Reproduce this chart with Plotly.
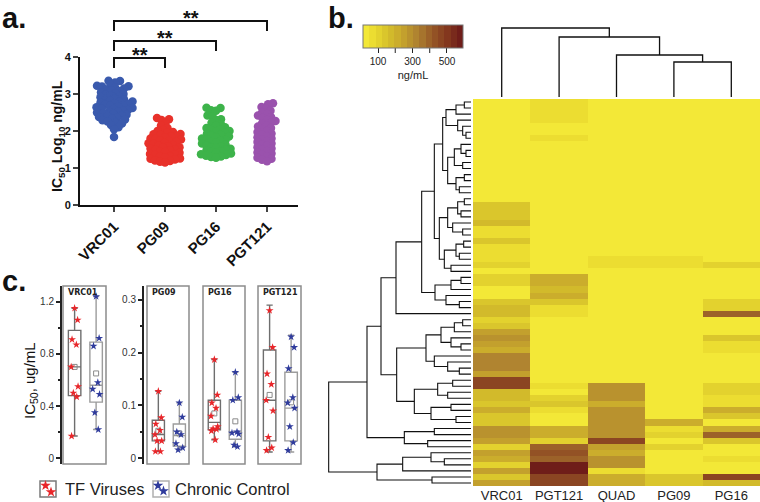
import numpy as np
import plotly.graph_objects as go

W, H = 760, 502
FONT = "Liberation Sans, Arial, sans-serif"

def fx(p):
    return p / W

def fy(p):
    return 1 - p / H

def dom_x(a, b):
    return [fx(a), fx(b)]

def dom_y(top, bottom):
    return [fy(bottom), fy(top)]

# ---------------- panel a data (IC50, log10 ng/mL) ----------------
a_groups = ["VRC01", "PG09", "PG16", "PGT121"]
a_colors = ["#3a5aad", "#e8312a", "#3db34a", "#9a52ad"]
a_vrc01 = [3.36, 3.35, 3.31, 3.24, 3.22, 3.21, 3.20, 3.18, 3.15, 3.12, 3.10, 3.08, 3.05, 3.02,
           3.00, 2.98, 2.96, 2.93, 2.91, 2.88, 2.86, 2.84, 2.82, 2.80, 2.79, 2.77, 2.75, 2.73,
           2.71, 2.70, 2.68, 2.66, 2.64, 2.62, 2.60, 2.59, 2.57, 2.55, 2.53, 2.52, 2.50, 2.48,
           2.46, 2.44, 2.42, 2.40, 2.38, 2.36, 2.33, 2.31, 2.29, 2.26, 2.23, 2.20, 2.16, 2.10,
           2.05, 1.84]
a_pg09 = [2.35, 2.32, 2.30, 2.22, 2.15, 2.08, 2.03, 2.00, 1.97, 1.95, 1.92, 1.91, 1.89, 1.86,
          1.85, 1.83, 1.80, 1.79, 1.77, 1.74, 1.73, 1.71, 1.68, 1.67, 1.65, 1.62, 1.61, 1.59,
          1.56, 1.55, 1.53, 1.50, 1.49, 1.47, 1.44, 1.43, 1.41, 1.38, 1.37, 1.35, 1.32, 1.31,
          1.29, 1.26, 1.25, 1.23, 1.20, 1.19, 1.17, 1.15]
a_pg16 = [2.63, 2.62, 2.56, 2.55, 2.42, 2.40, 2.32, 2.30, 2.22, 2.18, 2.15, 2.10, 2.08, 2.05,
          2.02, 2.00, 1.98, 1.95, 1.93, 1.90, 1.88, 1.85, 1.83, 1.80, 1.78, 1.76, 1.73, 1.70,
          1.68, 1.66, 1.63, 1.61, 1.58, 1.56, 1.54, 1.52, 1.50, 1.48, 1.45, 1.43, 1.41, 1.39,
          1.37, 1.35, 1.33, 1.31, 1.30, 1.28]
a_pgt121 = [2.75, 2.72, 2.65, 2.60, 2.55, 2.50, 2.46, 2.42, 2.38, 2.35, 2.30, 2.27, 2.22, 2.20,
            2.15, 2.12, 2.08, 2.05, 2.00, 1.97, 1.93, 1.90, 1.86, 1.83, 1.80, 1.77, 1.73, 1.70,
            1.66, 1.63, 1.60, 1.56, 1.53, 1.50, 1.46, 1.42, 1.39, 1.36, 1.32, 1.28, 1.25, 1.22,
            1.18]
a_values = [a_vrc01, a_pg09, a_pg16, a_pgt121]
a_sig_pairs = [(0, 1), (0, 2), (0, 3)]
a_sig_text = ["**", "**", "**"]

# ---------------- panel b data (heatmap, ng/mL) ----------------
hm_cols = ["VRC01", "PGT121", "QUAD", "PG09", "PG16"]
hm_vrc01 = [40, 40, 40, 15, 15, 15, 15, 15, 15, 15, 15, 15, 15, 15, 38, 38,
            38, 140, 150, 145, 190, 75, 75, 140, 80, 80, 55, 115, 40, 90, 90, 45,
            45, 145, 170, 170, 100, 150, 265, 270, 265, 200, 320, 330, 325, 240, 460, 460,
            165, 160, 155, 225, 150, 150, 280, 280, 240, 100, 250, 200, 120, 250, 140, 250]
hm_pgt121 = [80, 80, 80, 80, 35, 35, 80, 40, 15, 15, 15, 15, 15, 15, 15, 15,
             15, 15, 15, 15, 15, 15, 15, 15, 15, 15, 15, 15, 15, 220, 220, 160,
             200, 140, 50, 50, 15, 15, 15, 15, 15, 15, 15, 15, 15, 15, 15, 50,
             25, 90, 150, 60, 20, 20, 200, 200, 110, 400, 420, 380, 560, 590, 470, 470]
hm_quad = [20, 35, 15, 15, 15, 15, 40, 15, 15, 15, 15, 15, 15, 15, 40, 15,
           15, 40, 15, 15, 40, 15, 15, 15, 15, 15, 80, 80, 15, 15, 15, 15,
           15, 15, 15, 15, 15, 15, 40, 15, 15, 15, 35, 15, 15, 30, 15, 300,
           300, 300, 220, 290, 290, 300, 300, 300, 480, 250, 200, 300, 280, 50, 200, 200]
hm_pg09 = [15, 15, 40, 15, 15, 15, 40, 40, 15, 15, 15, 15, 15, 15, 15, 15,
           35, 15, 15, 15, 15, 15, 15, 15, 15, 15, 60, 60, 15, 15, 15, 15,
           15, 30, 15, 15, 15, 15, 15, 15, 15, 15, 35, 15, 15, 15, 15, 15,
           15, 15, 15, 15, 15, 210, 70, 120, 35, 90, 40, 25, 25, 25, 150, 150]
hm_pg16 = [15, 15, 15, 15, 15, 15, 15, 15, 45, 45, 45, 15, 15, 15, 15, 15,
           15, 15, 35, 15, 15, 15, 15, 45, 45, 30, 15, 110, 15, 15, 15, 40,
           15, 100, 100, 380, 15, 15, 15, 130, 60, 60, 15, 15, 15, 15, 15, 100,
           100, 60, 60, 220, 130, 20, 230, 400, 130, 15, 15, 70, 15, 15, 450, 180]
hm_zmin, hm_zmax = 13, 593
cb_tickvals = [100, 300, 500]
cb_minor_vals = [200, 400]

# column dendrogram: [height, left, right]; None = leaf (order VRC01, PGT121, QUAD, PG09, PG16)
L = None
col_tree = [69, L, [60, L, [42, L, [35, L, L]]]]

# row dendrogram (heights in 1/3 px units), leaves in heatmap row order
t1a_top = [75, [45, [20, L, L], L], [40, L, [25, L, [15, L, L]]]]
t1a_bot = [70, [50, [30, L, [15, L, L]], [25, L, L]], [45, [20, L, L], [35, L, L]]]
t1b = [95, [70, [40, [20, L, L], [30, L, L]], [55, L, [25, L, L]]],
       [80, [45, [22, L, L], [35, L, L]], [60, L, L]]]
t2 = [108, [60, [30, L, L], L], [75, L, [35, L, L]]]
c1 = [135, [90, [50, [25, L, L], L], [60, L, [30, L, L]]], [110, L, [70, L, [35, L, L]]]]
c2 = [170, [100, [55, L, L], [70, L, L]], [120, [60, L, L], [45, L, L]]]
a2 = [200, [110, L, L], [130, L, L]]
b1 = [205, [120, L, [80, L, L]], L]
b2 = [117, L, L]
row_tree = [427,
            [312, [270, [225, [148, [110, [85, t1a_top, t1a_bot], t1b], t2], L], [223, c1, c2]], a2],
            [282, b1, b2]]

# ---------------- panel c data (IC50 ug/mL) ----------------
c_names = ["VRC01", "PG09", "PG16", "PGT121"]
c_tf_lo = [0.17, 0.013, 0.035, 0.012]
c_tf_q1 = [0.48, 0.033, 0.054, 0.033]
c_tf_med = [0.70, 0.045, 0.068, 0.110]
c_tf_q3 = [0.98, 0.072, 0.110, 0.205]
c_tf_hi = [1.15, 0.127, 0.187, 0.290]
c_tf_mean = [0.70, 0.052, 0.085, 0.120]
c_ch_lo = [0.22, 0.016, 0.022, 0.012]
c_ch_q1 = [0.43, 0.023, 0.036, 0.033]
c_ch_med = [0.56, 0.043, 0.050, 0.095]
c_ch_q3 = [0.89, 0.065, 0.110, 0.163]
c_ch_hi = [1.24, 0.105, 0.163, 0.233]
c_ch_mean = [0.65, 0.047, 0.070, 0.106]
c_tf_pts = [[1.15, 1.06, 0.91, 0.87, 0.70, 0.55, 0.50, 0.47, 0.17],
            [0.127, 0.077, 0.065, 0.053, 0.045, 0.033, 0.033, 0.013, 0.013],
            [0.187, 0.120, 0.105, 0.095, 0.080, 0.060, 0.056, 0.055, 0.052, 0.035],
            [0.280, 0.210, 0.160, 0.140, 0.110, 0.090, 0.040, 0.020, 0.015]]
c_ch_pts = [[1.24, 0.92, 0.86, 0.58, 0.53, 0.49, 0.35, 0.22],
            [0.105, 0.078, 0.050, 0.045, 0.028, 0.020, 0.016],
            [0.163, 0.115, 0.110, 0.050, 0.048, 0.046, 0.025, 0.022],
            [0.230, 0.210, 0.170, 0.115, 0.105, 0.095, 0.060, 0.030, 0.015]]
legend_labels = ["TF Viruses", "Chronic Control"]

# ---------------- helpers ----------------
def swarm_offsets(vals, px_y, d):
    vals = np.asarray(vals, float)
    order = np.argsort(vals)
    px, py = [], []
    offs = np.zeros(len(vals))
    for n, idx in enumerate(order):
        y = vals[idx] * px_y
        sign = 1 if n % 2 == 0 else -1
        cands = [0.0]
        for k in range(1, 120):
            cands += [sign * k * 0.5, -sign * k * 0.5]
        chosen = 0.0
        for s in cands:
            if all((a - s) ** 2 + (b - y) ** 2 >= d * d for a, b in zip(px, py)):
                chosen = s
                break
        offs[idx] = chosen
        px.append(chosen)
        py.append(y)
    return offs


def dendro_segments(node, counter, xs, ys, horizontal):
    if node is None:
        i = counter[0]
        counter[0] += 1
        return float(i), 0.0
    h, left, right = node
    p1, h1 = dendro_segments(left, counter, xs, ys, horizontal)
    p2, h2 = dendro_segments(right, counter, xs, ys, horizontal)
    hs = [h1, h, h, h2]
    ps = [p1, p1, p2, p2]
    if horizontal:
        xs += hs + [None]
        ys += ps + [None]
    else:
        xs += ps + [None]
        ys += hs + [None]
    return (p1 + p2) / 2, h


fig = go.Figure()

# ---------------- panel a ----------------
PX_PER_Y = 37.0
PX_PER_X = 51.0
for gi, (vals, col) in enumerate(zip(a_values, a_colors)):
    offs = swarm_offsets(vals, PX_PER_Y, 4.8) / PX_PER_X
    fig.add_trace(go.Scatter(x=gi + offs, y=vals, mode="markers",
                             marker=dict(color=col, size=8.5, line=dict(width=0)),
                             xaxis="x", yaxis="y", hoverinfo="skip"))

shapes = []
annotations = []
brk_y = [58, 41, 21]
for (g0, g1), yb, txt in zip(a_sig_pairs, brk_y, a_sig_text):
    shapes.append(dict(type="path", xref="x", yref="paper",
                       path=f"M {g0},{fy(yb+10)} L {g0},{fy(yb)} L {g1},{fy(yb)} L {g1},{fy(yb+10)}",
                       line=dict(color="#111", width=2)))
    annotations.append(dict(x=(g0 + g1) / 2, y=fy(yb - 3), xref="x", yref="paper", text=f"<b>{txt}</b>",
                            showarrow=False, yanchor="middle", xanchor="center",
                            font=dict(size=20, color="#111", family=FONT)))

# ---------------- panel b ----------------
z = np.array([hm_vrc01, hm_pgt121, hm_quad, hm_pg09, hm_pg16], float).T
anchors = [(0.0, (247, 238, 58)), (0.1, (235, 220, 48)), (0.25, (214, 192, 43)),
           (0.4, (196, 161, 45)), (0.55, (173, 128, 48)), (0.7, (149, 86, 38)),
           (0.85, (130, 54, 30)), (1.0, (106, 22, 24))]
nsteps = 16
def interp_col(t):
    for (t0, c0), (t1, c1_) in zip(anchors[:-1], anchors[1:]):
        if t0 <= t <= t1:
            f = (t - t0) / (t1 - t0)
            return tuple(int(round(a + (b - a) * f)) for a, b in zip(c0, c1_))
    return anchors[-1][1]
cscale = []
for k in range(nsteps):
    c = interp_col((k + 0.5) / nsteps)
    cs = f"rgb({c[0]},{c[1]},{c[2]})"
    cscale.append([k / nsteps, cs])
    cscale.append([(k + 1) / nsteps, cs])

CB_X0, CB_LEN, CB_Y0, CB_TH = 363, 100, 25, 23
fig.add_trace(go.Heatmap(
    z=z, x=list(range(len(hm_cols))), y=list(range(z.shape[0])),
    colorscale=cscale, zmin=hm_zmin, zmax=hm_zmax, xaxis="x2", yaxis="y2", hoverinfo="skip",
    colorbar=dict(orientation="h", x=fx(CB_X0), xanchor="left", y=fy(CB_Y0), yanchor="top",
                  len=CB_LEN, lenmode="pixels", thickness=CB_TH, thicknessmode="pixels",
                  xpad=0, ypad=0, outlinewidth=1, outlinecolor="#777",
                  tickvals=cb_tickvals, ticks="outside", ticklen=5,
                  tickcolor="#222", tickfont=dict(size=10, color="#222", family=FONT),
                  title=dict(text="ng/mL", side="bottom", font=dict(size=11, color="#222", family=FONT)))))

xs, ys = [], []
dendro_segments(col_tree, [0], xs, ys, horizontal=False)
fig.add_trace(go.Scatter(x=xs, y=ys, mode="lines", line=dict(color="#111", width=1.3),
                         xaxis="x3", yaxis="y3", hoverinfo="skip"))
xs, ys = [], []
dendro_segments(row_tree, [0], xs, ys, horizontal=True)
xs = [None if v is None else v / 3.0 for v in xs]
fig.add_trace(go.Scatter(x=xs, y=ys, mode="lines", line=dict(color="#111", width=1.1),
                         xaxis="x4", yaxis="y4", hoverinfo="skip"))

# ---------------- panel c ----------------
frames_px = [(63, 106), (147, 189), (203, 245), (258, 301)]
TF_POS, CH_POS, BW = 0.27, 0.77, 0.29
jit = [0.0, 0.07, -0.06, 0.04, -0.08, 0.08, -0.03, 0.05, -0.07, 0.02]
tf_col, ch_col = "#e8262a", "#2f3b9c"
for i in range(4):
    xa = f"x{5+i}"
    ya_real = f"y{5+i}"
    for pos, lo, q1, med, q3, hi, mean, pts, pcol, bcol in [
        (TF_POS, c_tf_lo[i], c_tf_q1[i], c_tf_med[i], c_tf_q3[i], c_tf_hi[i], c_tf_mean[i], c_tf_pts[i], tf_col, "#6e6e6e"),
        (CH_POS, c_ch_lo[i], c_ch_q1[i], c_ch_med[i], c_ch_q3[i], c_ch_hi[i], c_ch_mean[i], c_ch_pts[i], ch_col, "#9c9c9c")]:
        fig.add_trace(go.Box(x=[pos], q1=[q1], median=[med], q3=[q3], lowerfence=[lo], upperfence=[hi],
                             width=BW, whiskerwidth=0.5, boxpoints=False,
                             line=dict(color=bcol, width=1.4), fillcolor="rgba(255,255,255,0)",
                             xaxis=xa, yaxis=ya_real, hoverinfo="skip"))
        fig.add_trace(go.Scatter(x=[pos], y=[mean], mode="markers",
                                 marker=dict(symbol="square-open", size=5, color="#8a8a8a", line=dict(width=1)),
                                 xaxis=xa, yaxis=ya_real, hoverinfo="skip"))
        fig.add_trace(go.Scatter(x=[pos + jit[k % len(jit)] for k in range(len(pts))], y=pts, mode="markers",
                                 marker=dict(symbol="star", size=6, color=pcol, line=dict(width=0)),
                                 xaxis=xa, yaxis=ya_real, hoverinfo="skip"))
    shapes.append(dict(type="rect", xref=f"x{5+i} domain", yref=f"y{5+i} domain", x0=0, x1=1, y0=0, y1=1,
                       line=dict(color="#8c8c8c", width=1.5)))
    annotations.append(dict(x=fx(frames_px[i][0] + 3), y=fy(292), xref="paper", yref="paper",
                            text=f"<b>{c_names[i]}</b>", showarrow=False, xanchor="left", yanchor="middle",
                            font=dict(size=8, color="#222", family="DejaVu Sans")))

# colorbar minor ticks (200, 400)
for v in cb_minor_vals:
    xp = CB_X0 + (v - hm_zmin) / (hm_zmax - hm_zmin) * CB_LEN
    shapes.append(dict(type="line", xref="paper", yref="paper", x0=fx(xp), x1=fx(xp),
                       y0=fy(CB_Y0 + CB_TH), y1=fy(CB_Y0 + CB_TH + 5), line=dict(color="#222", width=1)))

# legend (pixel overlay)
leg_icons = [(40, 481, tf_col, "#7a7a7a", [(45.5, 485.5), (51, 492)], 63),
             (153, 481, ch_col, "#b0b0b0", [(158, 485.5), (163.5, 491)], 173)]
for (x0, y0, scol, bcol, stars, tx), lab in zip(leg_icons, legend_labels):
    shapes.append(dict(type="rect", xref="paper", yref="paper", x0=fx(x0), x1=fx(x0 + 16),
                       y0=fy(y0 + 16), y1=fy(y0), line=dict(color=bcol, width=1.5), layer="below"))
    fig.add_trace(go.Scatter(x=[s[0] for s in stars], y=[s[1] for s in stars], mode="markers",
                             marker=dict(symbol="star", size=8, color=scol, line=dict(width=0)),
                             xaxis="x9", yaxis="y9", hoverinfo="skip"))
    annotations.append(dict(x=fx(tx), y=fy(489), xref="paper", yref="paper", text=lab, showarrow=False,
                            xanchor="left", yanchor="middle", font=dict(size=16.5, color="#222", family=FONT)))

# panel labels & titles
for txt, px_, py_, anc in [("a.", 0, 0, "top"), ("b.", 326, 0, "top"), ("c.", 0, 281, "middle")]:
    annotations.append(dict(x=fx(px_), y=fy(py_), xref="paper", yref="paper", text=f"<b>{txt}</b>",
                            showarrow=False, xanchor="left", yanchor=anc,
                            font=dict(size=29, color="#111", family=FONT)))
annotations.append(dict(x=fx(58), y=fy(136), xref="paper", yref="paper", textangle=-90,
                        xanchor="center", yanchor="middle",
                        text="<b>IC<sub>50</sub> Log<sub>10</sub> ng/mL</b>", showarrow=False,
                        font=dict(size=14, color="#111", family=FONT)))
annotations.append(dict(x=fx(30), y=fy(381), xref="paper", yref="paper", textangle=-90,
                        xanchor="center", yanchor="middle",
                        text="IC<sub>50</sub>, ug/mL", showarrow=False,
                        font=dict(size=15, color="#111", family=FONT)))

hidden = dict(visible=False, showgrid=False, zeroline=False)
layout = dict(
    width=W, height=H, margin=dict(l=0, r=0, t=0, b=0, autoexpand=False), showlegend=False,
    paper_bgcolor="white", plot_bgcolor="rgba(0,0,0,0)",
    font=dict(family=FONT, color="#111"),
    shapes=shapes, annotations=annotations,
    xaxis=dict(domain=dom_x(80, 297.6), range=[-0.667, 3.6], tickvals=list(range(len(a_groups))),
               ticktext=a_groups, tickangle=-45, ticks="outside", ticklen=5, tickwidth=2,
               showline=True, linewidth=2, linecolor="#111", showgrid=False, zeroline=False,
               tickfont=dict(size=15, color="#111", family=FONT, weight="bold"), anchor="y"),
    yaxis=dict(domain=dom_y(57, 205), range=[0, 4], dtick=1, ticks="outside", ticklen=5, tickwidth=2,
               showline=True, linewidth=2, linecolor="#111", showgrid=False, zeroline=False,
               tickfont=dict(size=11, color="#111", family=FONT, weight="bold"), anchor="x"),
    xaxis2=dict(domain=dom_x(473, 760), range=[-0.5, 4.5], tickvals=list(range(len(hm_cols))),
                ticktext=hm_cols, ticks="", showline=False, showgrid=False, zeroline=False,
                tickfont=dict(size=13, color="#222", family=FONT), anchor="y2"),
    yaxis2=dict(domain=dom_y(99, 486), range=[63.5, -0.5], anchor="x2", **hidden),
    xaxis3=dict(domain=dom_x(473, 760), range=[-0.5, 4.5], anchor="y3", **hidden),
    yaxis3=dict(domain=dom_y(25, 97), range=[0, 72], anchor="x3", **hidden),
    xaxis4=dict(domain=dom_x(326, 471), range=[145, 0], anchor="y4", **hidden),
    yaxis4=dict(domain=dom_y(99, 486), range=[63.5, -0.5], anchor="x4", **hidden),
    xaxis9=dict(domain=[0, 1], range=[0, W], anchor="y9", **hidden),
    yaxis9=dict(domain=[0, 1], range=[H, 0], anchor="x9", **hidden),
)
c_ranges = [[-0.044, 1.32], [-0.0108, 0.3263], [-0.0108, 0.3263], [-0.0108, 0.3263]]
c_axis_px = [61, 143, None, None]
c_dtick = [0.4, 0.1]
c_minor = [0.2, 0.05]
for i in range(4):
    layout[f"xaxis{5+i}"] = dict(domain=dom_x(*frames_px[i]), range=[0, 1], anchor=f"y{5+i}", **hidden)
    if c_axis_px[i] is not None:
        layout[f"yaxis{5+i}"] = dict(domain=dom_y(286, 464), range=c_ranges[i], anchor="free",
                                     position=fx(c_axis_px[i]), showline=True, linewidth=2, linecolor="#222",
                                     ticks="outside", ticklen=4, tickwidth=1.5, tickcolor="#222",
                                     tick0=0, dtick=c_dtick[i], showgrid=False, zeroline=False,
                                     minor=dict(dtick=c_minor[i], ticks="outside", ticklen=2.5, tickcolor="#222"),
                                     tickfont=dict(size=10, color="#333", family=FONT))
    else:
        layout[f"yaxis{5+i}"] = dict(domain=dom_y(286, 464), range=c_ranges[i], anchor=f"x{5+i}", **hidden)

fig.update_layout(**layout)
fig.write_html("out.html", config={"displayModeBar": False},
               post_script="document.body.style.margin='0px';document.body.style.overflow='hidden';")
